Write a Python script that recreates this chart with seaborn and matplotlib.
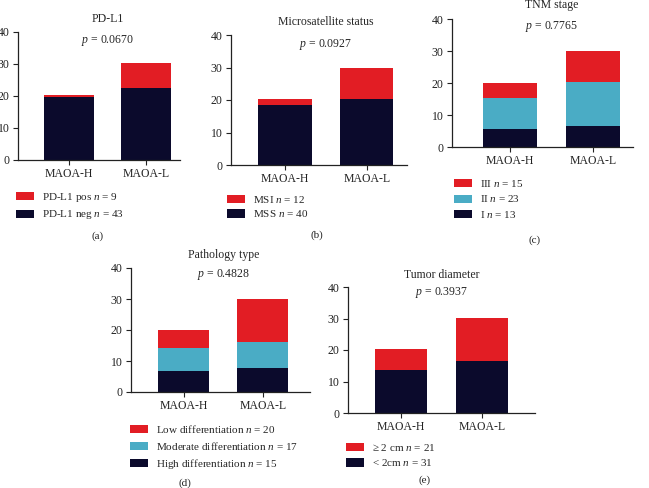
import matplotlib
matplotlib.use("Agg")
import matplotlib.pyplot as plt
import matplotlib.transforms as mtransforms
from matplotlib.patches import Patch
import pandas as pd
import seaborn as sns

# values (patients per group)
groups = ["MAOA-H", "MAOA-L"]

pdl1_neg = [19.7, 22.6]
pdl1_pos = [0.5, 7.7]

mss = [18.5, 20.4]
msi = [1.7, 9.6]

tnm_i = [5.6, 6.6]
tnm_ii = [9.8, 13.8]
tnm_iii = [4.5, 9.5]

path_high = [6.7, 7.6]
path_mod = [7.5, 8.6]
path_low = [5.7, 13.7]

diam_small = [13.6, 16.6]
diam_large = [6.7, 13.7]

RED = "#e21d24"
TEAL = "#4aacc5"
NAVY = "#0b0a2c"

sns.set_style("ticks")
plt.rcParams["font.family"] = ["Liberation Serif", "DejaVu Serif"]
plt.rcParams["mathtext.fontset"] = "custom"
plt.rcParams["mathtext.rm"] = "Liberation Serif"
plt.rcParams["mathtext.it"] = "Liberation Serif:italic"
plt.rcParams["font.size"] = 8

W, H = 649, 488
fig = plt.figure(figsize=(W / 100, H / 100), dpi=100)


def rect(l, t, r, b):
    return [l / W, 1 - b / H, (r - l) / W, (b - t) / H]


panels = [
    dict(box=(18, 32, 180, 160), xlim=(-0.66, 1.44), title="PD-L1", p="0.0670",
         title_y=19, p_y=41, letter="(a)", letter_xy=(98, 236), leg_xy=(16, 191),
         segs=[(pdl1_neg, NAVY, "PD-L1 neg $n$ = 43"),
               (pdl1_pos, RED, "PD-L1 pos $n$ = 9")], spacing=0.4),
    dict(box=(231, 35, 407, 165), xlim=(-0.66, 1.49), title="Microsatellite status", p="0.0927",
         title_y=22, p_y=44, letter="(b)", letter_xy=(317, 235), leg_xy=(227, 194),
         segs=[(mss, NAVY, "MSS $n$ = 40"),
               (msi, RED, "MSI $n$ = 12")], spacing=0.3),
    dict(box=(452, 19, 633, 147), xlim=(-0.70, 1.48), title="TNM stage", p="0.7765",
         title_y=5, p_y=27, letter="(c)", letter_xy=(535, 240), leg_xy=(454, 178),
         segs=[(tnm_i, NAVY, "I $n$ = 13"),
               (tnm_ii, TEAL, "II $n$ = 23"),
               (tnm_iii, RED, "III $n$ = 15")], spacing=0.4),
    dict(box=(131, 268, 310, 392), xlim=(-0.67, 1.6), title="Pathology type", p="0.4828",
         title_y=255, p_y=275, letter="(d)", letter_xy=(185, 483), leg_xy=(130, 423),
         segs=[(path_high, NAVY, "High differentiation $n$ = 15"),
               (path_mod, TEAL, "Moderate differentiation $n$ = 17"),
               (path_low, RED, "Low differentiation $n$ = 20")], spacing=0.45),
    dict(box=(348, 287, 535, 413), xlim=(-0.66, 1.66), title="Tumor diameter", p="0.3937",
         title_y=275, p_y=293, letter="(e)", letter_xy=(425, 480), leg_xy=(346, 442),
         segs=[(diam_small, NAVY, "< 2cm $n$ = 31"),
               (diam_large, RED, "\u2265 2 cm $n$ = 21")], spacing=0.4),
]

for pn in panels:
    ax = fig.add_axes(rect(*pn["box"]))
    # stacked bars: draw cumulative totals from top segment down
    cum = []
    total = [0.0, 0.0]
    for vals, color, label in pn["segs"]:
        total = [a + b for a, b in zip(total, vals)]
        cum.append((list(total), color))
    for tot, color in reversed(cum):
        df = pd.DataFrame({"group": groups, "value": tot})
        sns.barplot(data=df, x="group", y="value", color=color, saturation=1,
                    width=0.65, linewidth=0, errorbar=None, ax=ax)
    ax.set_xlim(*pn["xlim"])
    ax.set_ylim(0, 40)
    ax.set_yticks([0, 10, 20, 30, 40])
    ax.set_xlabel("")
    ax.set_ylabel("")
    ax.tick_params(axis="both", labelsize=8.5, length=3.5, width=0.8, pad=2.5,
                   colors="#222222")
    for s in ("left", "bottom"):
        ax.spines[s].set_linewidth(0.9)
        ax.spines[s].set_color("#222222")
    sns.despine(ax=ax)

    tr = mtransforms.blended_transform_factory(ax.transData, fig.transFigure)
    ax.text(0.5, 1 - pn["title_y"] / H, pn["title"], transform=tr,
            ha="center", va="center", fontsize=8.5)
    ax.text(0.5, 1 - pn["p_y"] / H, "$p$ = " + pn["p"], transform=tr,
            ha="center", va="center", fontsize=8.5)

    handles = [Patch(facecolor=c, edgecolor="none", label=l)
               for v, c, l in reversed(pn["segs"])]
    lx, ly = pn["leg_xy"]
    fig.legend(handles=handles, loc="upper left", bbox_to_anchor=(lx / W, 1 - ly / H),
               frameon=False, fontsize=8, handlelength=1.6, handleheight=0.75,
               handletextpad=0.7, labelspacing=pn["spacing"], borderpad=0,
               borderaxespad=0)

    fx, fy = pn["letter_xy"]
    fig.text(fx / W, 1 - fy / H, pn["letter"], ha="center", va="center", fontsize=8)

fig.savefig("out.png", dpi=100)
